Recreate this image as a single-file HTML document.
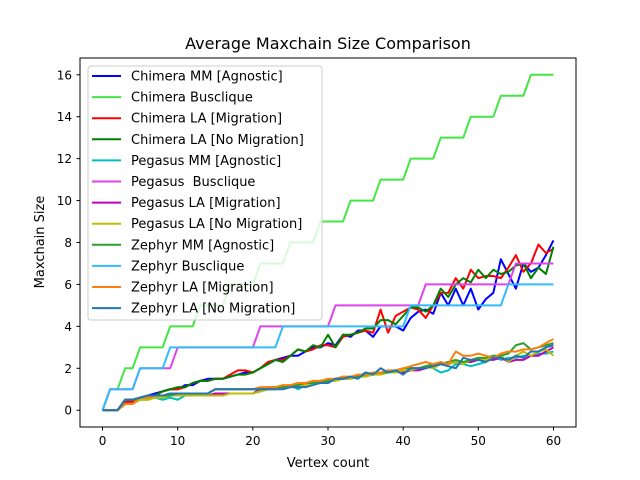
<!DOCTYPE html>
<html><head><meta charset="utf-8"><style>
body{margin:0;background:#fff;}
svg{display:block;font-family:"DejaVu Sans","Liberation Sans",sans-serif;}
</style></head><body>
<svg id="chart" width="640" height="480" viewBox="0 0 640 480">
<rect width="640" height="480" fill="#fff"/>
<text x="328" y="49" text-anchor="middle" font-size="16">Average Maxchain Size Comparison</text>
<g id="plot"></g>
<rect x="80" y="58" width="496" height="369" fill="none" stroke="#000" stroke-width="1"/>
<g id="ticks"></g>
<text x="328" y="467" text-anchor="middle" font-size="13">Vertex count</text>
<text transform="translate(44,242) rotate(-90)" text-anchor="middle" font-size="13">Maxchain Size</text>
<g id="legend"></g>
</svg>
<script>
const xTicks=[0,10,20,30,40,50,60];
const yTicks=[0,2,4,6,8,10,12,14,16];
const seriesNames=["Chimera MM [Agnostic]","Chimera Busclique","Chimera LA [Migration]","Chimera LA [No Migration]","Pegasus MM [Agnostic]","Pegasus  Busclique","Pegasus LA [Migration]","Pegasus LA [No Migration]","Zephyr MM [Agnostic]","Zephyr Busclique","Zephyr LA [Migration]","Zephyr LA [No Migration]"];
const chimeraMM=[0,0,0,0.5,0.5,0.6,0.7,0.8,0.9,1.0,1.0,1.2,1.2,1.4,1.5,1.5,1.5,1.6,1.7,1.8,1.8,2.0,2.2,2.4,2.5,2.6,2.6,2.8,3.0,3.0,3.2,3.1,3.6,3.5,3.8,3.8,3.5,4.0,4.0,4.0,3.8,4.4,4.7,4.8,4.6,5.6,5.0,5.8,5.0,5.8,4.8,5.3,5.6,7.2,6.5,5.8,7.0,6.6,6.8,7.4,8.1];
const chimeraBus=[0,1,1,2,2,3,3,3,3,4,4,4,4,5,5,5,5,6,6,6,6,7,7,7,7,8,8,8,8,9,9,9,9,10,10,10,10,11,11,11,11,12,12,12,12,13,13,13,13,14,14,14,14,15,15,15,15,16,16,16,16];
const chimeraLAMig=[0,0,0,0.4,0.4,0.6,0.7,0.7,0.9,1.0,1.0,1.1,1.3,1.4,1.4,1.5,1.5,1.7,1.9,1.9,1.8,2.0,2.3,2.4,2.4,2.6,2.9,2.8,2.9,3.1,3.1,3.0,3.5,3.6,3.7,3.8,3.7,4.8,3.7,4.5,4.7,4.9,4.8,4.4,5.0,5.6,5.6,6.3,5.8,6.7,6.3,6.4,6.4,6.3,6.8,7.4,6.6,7.0,7.9,7.5,7.7];
const chimeraLANoMig=[0,0,0,0.5,0.5,0.6,0.6,0.7,0.9,1.0,1.1,1.1,1.3,1.4,1.4,1.5,1.5,1.6,1.7,1.7,1.8,2.0,2.2,2.4,2.3,2.6,2.9,2.8,3.1,3.0,3.6,3.0,3.6,3.6,3.7,3.9,3.9,4.3,4.3,4.1,4.5,4.9,4.9,4.7,5.0,5.8,5.4,6.0,6.3,6.1,6.7,6.3,6.7,6.5,6.6,6.9,7.0,6.3,6.8,6.5,7.8];
const pegMM=[0,0,0,0.3,0.3,0.5,0.5,0.6,0.5,0.6,0.5,0.7,0.7,0.7,0.7,0.8,0.8,0.8,0.8,0.8,0.8,0.9,1.0,1.0,1.1,1.2,1.0,1.2,1.3,1.4,1.3,1.5,1.6,1.5,1.6,1.8,1.7,1.8,1.8,1.9,1.8,2.0,2.0,2.1,2.0,1.8,1.9,2.2,2.2,2.1,2.2,2.3,2.6,2.4,2.5,2.5,2.6,2.6,2.7,2.7,2.8];
const pegBus=[0,1,1,1,1,2,2,2,2,2,3,3,3,3,3,3,3,3,3,3,3,4,4,4,4,4,4,4,4,4,4,5,5,5,5,5,5,5,5,5,5,5,5,6,6,6,6,6,6,6,6,6,6,6,6,7,7,7,7,7,7];
const pegLAMig=[0,0,0,0.3,0.3,0.6,0.6,0.7,0.7,0.7,0.7,0.7,0.7,0.7,0.7,0.8,0.8,0.8,0.8,0.8,0.8,1.0,1.0,1.1,1.1,1.2,1.2,1.3,1.3,1.4,1.4,1.5,1.5,1.5,1.6,1.7,1.7,1.8,1.8,1.9,1.8,1.9,1.9,2.0,2.2,2.2,2.2,2.3,2.3,2.3,2.4,2.4,2.4,2.5,2.3,2.4,2.4,2.6,2.6,2.8,3.0];
const pegLANoMig=[0,0,0,0.3,0.3,0.5,0.5,0.6,0.6,0.7,0.7,0.7,0.7,0.7,0.7,0.7,0.7,0.8,0.8,0.8,0.8,0.9,1.0,1.0,1.1,1.1,1.1,1.2,1.3,1.3,1.4,1.4,1.5,1.5,1.6,1.6,1.7,1.7,1.8,1.8,1.9,1.9,2.0,2.1,2.0,2.2,2.2,2.3,2.2,2.4,2.5,2.4,2.5,2.6,2.3,2.6,2.8,2.6,2.8,2.9,2.6];
const zepMM=[0,0,0,0.5,0.5,0.6,0.7,0.7,0.7,0.7,0.8,0.8,0.8,0.8,0.8,1.0,1.0,1.0,1.0,1.0,1.0,1.0,1.1,1.1,1.1,1.2,1.2,1.3,1.3,1.4,1.4,1.5,1.5,1.6,1.6,1.7,1.8,1.8,1.8,1.9,2.0,2.0,2.0,2.1,2.2,2.2,2.3,2.4,2.3,2.4,2.5,2.5,2.6,2.6,2.7,3.1,3.2,2.9,3.0,3.1,3.2];
const zepBus=[0,1,1,1,1,2,2,2,2,3,3,3,3,3,3,3,3,3,3,3,3,3,3,3,4,4,4,4,4,4,4,4,4,4,4,4,4,4,4,4,4,5,5,5,5,5,5,5,5,5,5,5,5,5,6,6,6,6,6,6,6];
const zepLAMig=[0,0,0,0.3,0.3,0.6,0.6,0.7,0.7,0.8,0.8,0.8,0.8,0.8,0.8,1.0,1.0,1.0,1.0,1.0,1.0,1.1,1.1,1.1,1.2,1.2,1.3,1.3,1.4,1.4,1.5,1.5,1.6,1.6,1.7,1.7,1.8,1.8,1.9,1.9,2.0,2.1,2.2,2.3,2.2,2.3,2.2,2.8,2.6,2.6,2.7,2.6,2.5,2.7,2.8,2.8,2.9,2.9,3.0,3.2,3.4];
const zepLANoMig=[0,0,0,0.5,0.5,0.6,0.7,0.7,0.7,0.8,0.8,0.8,0.8,0.8,0.8,1.0,1.0,1.0,1.0,1.0,1.0,1.0,1.0,1.0,1.0,1.1,1.1,1.1,1.2,1.3,1.3,1.5,1.5,1.6,1.5,1.8,1.7,2.0,1.8,1.9,1.7,2.0,2.0,2.0,2.1,2.2,2.1,2.0,2.5,2.4,2.4,2.3,2.5,2.5,2.4,2.6,2.5,2.8,2.8,3.0,3.1];
const seriesColors=["#0000ff","#44e644","#ff0000","#008000","#00bfbf","#dd44ee","#bf00bf","#bfbf00","#2ca02c","#33bbff","#ff7f0e","#1f77b4"];
const allSeries=[chimeraMM,chimeraBus,chimeraLAMig,chimeraLANoMig,pegMM,pegBus,pegLAMig,pegLANoMig,zepMM,zepBus,zepLAMig,zepLANoMig];

const NS="http://www.w3.org/2000/svg";
function xs(v){return 80+(v+3)*496/66;}
function ys(v){return 427-(v+0.8)*369/17.6;}
function mk(tag,attrs,parent){const e=document.createElementNS(NS,tag);for(const k in attrs)e.setAttribute(k,attrs[k]);parent.appendChild(e);return e;}
const plot=document.getElementById("plot");
allSeries.forEach((s,i)=>{
  let d="";
  s.forEach((v,j)=>{d+=(j===0?"M":"L")+xs(j)+","+ys(v);});
  const p=mk("path",{d:d,fill:"none",stroke:seriesColors[i],"stroke-width":2,"stroke-linejoin":"round"},plot);
  
  
});
const ticks=document.getElementById("ticks");
xTicks.forEach(t=>{
  const l=mk("line",{x1:xs(t),x2:xs(t),y1:427,y2:430.5,stroke:"#000"},ticks);
  
  
  const tx=mk("text",{x:xs(t),y:445,"text-anchor":"middle","font-size":"12"},ticks);
  tx.textContent=t;
  
  
});
yTicks.forEach(t=>{
  const l=mk("line",{x1:76.5,x2:80,y1:ys(t),y2:ys(t),stroke:"#000"},ticks);
  
  
  const tx=mk("text",{x:72,y:ys(t)+4.5,"text-anchor":"end","font-size":"12"},ticks);
  tx.textContent=t;
  
  
});
const lg=document.getElementById("legend");
const box=mk("rect",{x:88,y:66,width:234,height:254,rx:3,fill:"#fff","fill-opacity":0.8,stroke:"#ccc"},lg);


seriesNames.forEach((n,i)=>{
  const y=76+i*21.1;
  const l=mk("line",{x1:92,x2:121,y1:y,y2:y,stroke:seriesColors[i],"stroke-width":2},lg);
  
  
  const t=mk("text",{x:131,y:y+4.5,"font-size":"13"},lg);
  t.style.whiteSpace="pre";
  t.textContent=n;
  
  
});
</script>
</body></html>
